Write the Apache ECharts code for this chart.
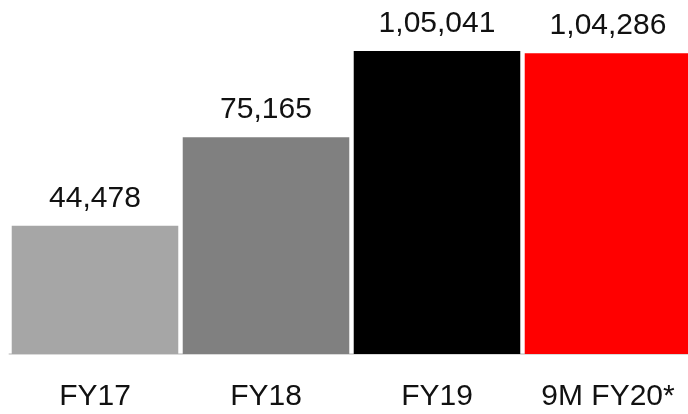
<!DOCTYPE html>
<html>
<head>
<meta charset="utf-8">
<script src="https://cdn.jsdelivr.net/npm/echarts@6/dist/echarts.min.js"></script>
<style>
html,body{margin:0;padding:0;background:#fff;}
#chart{width:688px;height:414px;}
</style>
</head>
<body>
<div id="chart"></div>
<script>
const categories = ['FY17', 'FY18', 'FY19', '9M FY20*'];
const values = [44478, 75165, 105041, 104286];
const barColors = ['#a6a6a6', '#808080', '#000000', '#ff0000'];
const yMax = 122700;

function indianFormat(n) {
  const s = String(Math.round(n));
  if (s.length <= 3) return s;
  const last3 = s.slice(-3);
  let rest = s.slice(0, -3);
  const parts = [];
  while (rest.length > 2) {
    parts.unshift(rest.slice(-2));
    rest = rest.slice(0, -2);
  }
  if (rest.length) parts.unshift(rest);
  return parts.join(',') + ',' + last3;
}

const chart = echarts.init(document.getElementById('chart'));
chart.setOption({
  animation: false,
  backgroundColor: '#ffffff',
  grid: { left: 9.5, top: 0, right: -5.5, bottom: 60, containLabel: false, outerBoundsMode: 'none' },
  xAxis: {
    type: 'category',
    data: categories,
    axisLine: { show: true, lineStyle: { color: '#d9d9d9', width: 2 } },
    axisTick: { show: false },
    axisLabel: {
      interval: 0,
      hideOverlap: false,
      color: '#111',
      fontFamily: 'Liberation Sans',
      fontSize: 30,
      margin: 28
    }
  },
  yAxis: {
    type: 'value',
    min: 0,
    max: yMax,
    show: false,
    splitLine: { show: false }
  },
  series: [{
    type: 'bar',
    data: values.map((v, i) => ({ value: v, itemStyle: { color: barColors[i] } })),
    barCategoryGap: '2.6%',
    label: {
      show: true,
      position: 'top',
      distance: 12,
      color: '#111',
      fontFamily: 'Liberation Sans',
      fontSize: 30,
      formatter: p => indianFormat(p.value)
    }
  }]
});
</script>
</body>
</html>
